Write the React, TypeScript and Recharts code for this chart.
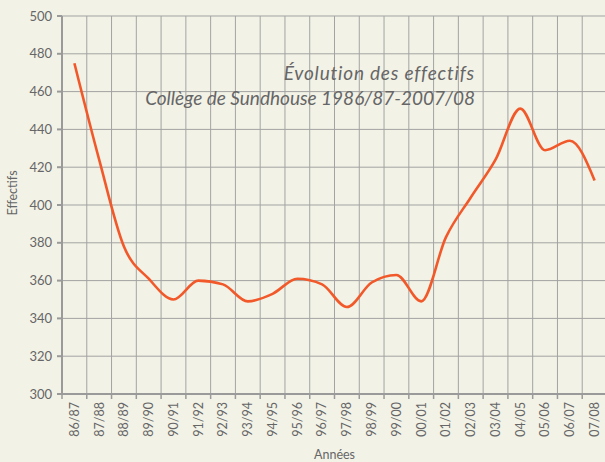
import { CartesianGrid, Line, LineChart, XAxis, YAxis } from 'recharts';

const years = [
  '86/87', '87/88', '88/89', '89/90', '90/91', '91/92', '92/93', '93/94',
  '94/95', '95/96', '96/97', '97/98', '98/99', '99/00', '00/01', '01/02',
  '02/03', '03/04', '04/05', '05/06', '06/07', '07/08',
];

const effectifs = [
  475, 424, 378, 361, 350, 360, 358, 349, 353, 361, 358,
  346, 359, 363, 349, 383, 404, 424, 451, 429, 434, 413,
];

const yTicks = [300, 320, 340, 360, 380, 400, 420, 440, 460, 480, 500];

const data = years.map((annee, i) => ({ annee, effectif: effectifs[i] }));

const BG = '#F2F2E6';
const GRID = '#A3A3A3';
const AXIS = '#9A9A9A';
const TEXT = '#666666';
const LINE = '#F2592A';
const FONT = 'Lato, "Open Sans", sans-serif';

const CHART_W = 607;
const CHART_H = 462;
const Y_W = 62;
const X_H = 68;
const TOP = 16;
const band = (CHART_W - Y_W) / years.length;

function YearTick({ x, y, payload }: any) {
  return (
    <g>
      <line x1={x - band / 2} x2={x - band / 2} y1={y - 8} y2={y - 3} stroke={AXIS} strokeWidth={1.5} />
      <text
        transform={`translate(${x},${y}) rotate(-90)`}
        textAnchor="end"
        dy="0.35em"
        fill={TEXT}
        fontSize={12.5}
        fontFamily={FONT}
      >
        {payload.value}
      </text>
    </g>
  );
}

export default function App() {
  return (
    <div
      style={{
        position: 'absolute',
        left: 0,
        top: 0,
        width: 605,
        height: 462,
        overflow: 'hidden',
        background: BG,
      }}
    >
      <LineChart
        width={CHART_W}
        height={CHART_H}
        data={data}
        margin={{ top: TOP, right: 0, bottom: 0, left: 0 }}
      >
        <CartesianGrid
          stroke={GRID}
          strokeWidth={1}
          verticalCoordinatesGenerator={({ offset }: any) =>
            years.map((_, i) => offset.left + (i * offset.width) / years.length).concat(offset.left + offset.width)
          }
        />
        <XAxis
          dataKey="annee"
          height={X_H}
          interval={0}
          padding={{ left: band / 2, right: band / 2 }}
          tickLine={false}
          tick={<YearTick />}
          stroke={AXIS}
          strokeWidth={2}
          label={{
            value: 'Années',
            position: 'insideBottom',
            offset: 3,
            fill: TEXT,
            fontSize: 12.5,
            fontFamily: FONT,
          }}
        />
        <YAxis
          width={Y_W}
          domain={[300, 500]}
          ticks={yTicks}
          interval={0}
          stroke={AXIS}
          strokeWidth={2}
          tickSize={5}
          tickMargin={5}
          tick={{ fill: TEXT, fontSize: 13, fontFamily: FONT }}
          label={{
            value: 'Effectifs',
            content: ({ viewBox }: any) => (
              <text
                transform={`translate(13,${viewBox.y + viewBox.height / 2 - 12}) rotate(-90)`}
                textAnchor="middle"
                dy="0.35em"
                fill={TEXT}
                fontSize={12.5}
                fontFamily={FONT}
              >
                Effectifs
              </text>
            ),
          }}
        />
        <Line
          type="monotone"
          dataKey="effectif"
          stroke={LINE}
          strokeWidth={2.6}
          dot={false}
          activeDot={false}
          isAnimationActive={false}
        />
      </LineChart>
      <div
        style={{
          position: 'absolute',
          right: 130,
          top: 60,
          textAlign: 'right',
          color: TEXT,
          fontFamily: FONT,
          fontStyle: 'italic',
          fontSize: 19,
          lineHeight: '25px',
          whiteSpace: 'nowrap',
        }}
      >
        <div style={{ letterSpacing: 0.8 }}>Évolution des effectifs</div>
        <div>Collège de Sundhouse 1986/87-2007/08</div>
      </div>
    </div>
  );
}
